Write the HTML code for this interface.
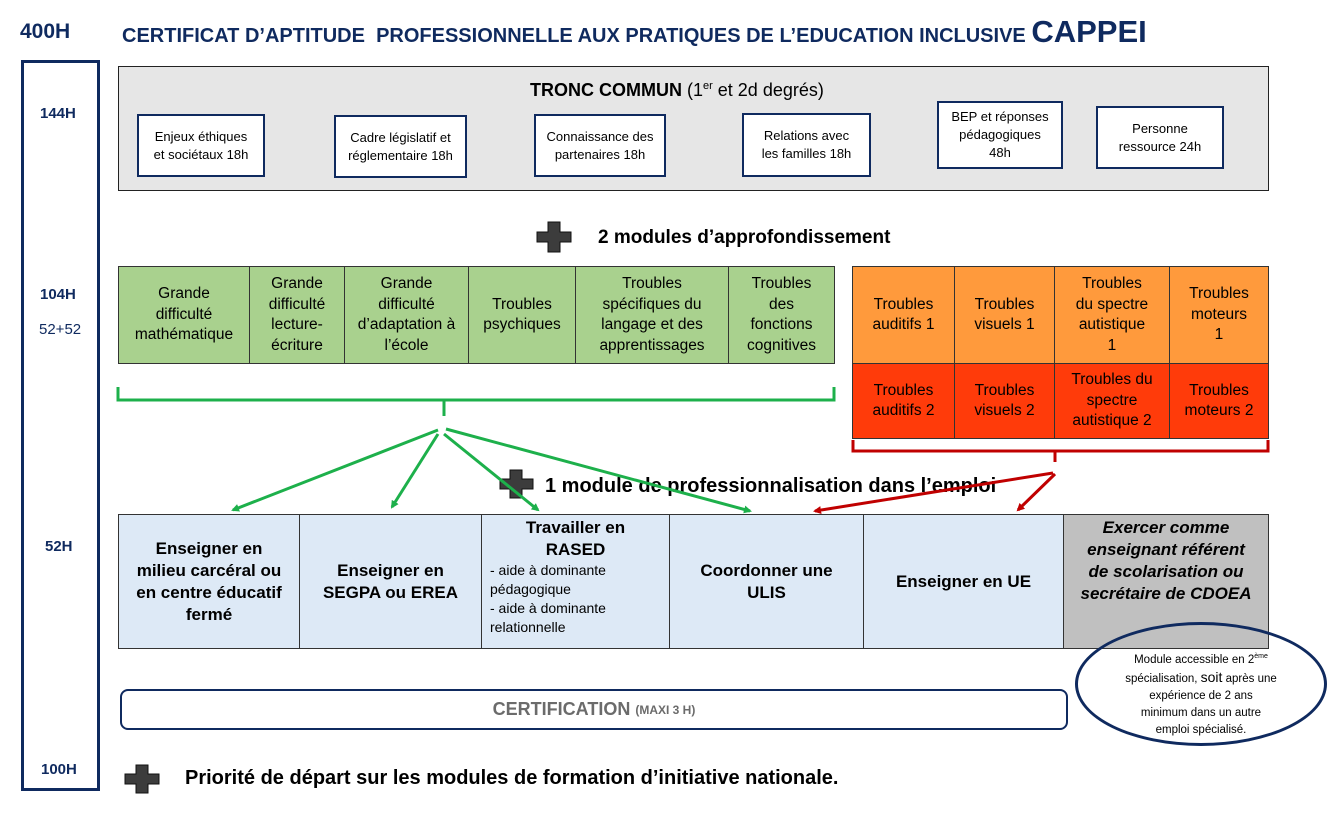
<!DOCTYPE html>
<html><head><meta charset="utf-8">
<style>
*{margin:0;padding:0;box-sizing:border-box}
body{width:1339px;height:815px;background:#fff;position:relative;overflow:hidden;font-family:"Liberation Sans",sans-serif;color:#000}
.a{position:absolute}
.navy{color:#0f2a5f}
.c{display:flex;align-items:center;justify-content:center;text-align:center}
.ib{position:absolute;border:2px solid #0f2a5f;background:#fff;font-size:13px;line-height:18px;display:flex;align-items:center;justify-content:center;text-align:center}
.cell{position:absolute;border:1px solid #333;display:flex;align-items:center;justify-content:center;text-align:center;font-size:15.5px;line-height:20.5px}
.g{background:#a9d18e}.o{background:#ff9a3c}.r{background:#ff3b0a}.b{background:#dde9f6;font-weight:bold;font-size:17px;line-height:22px}
</style></head><body>
<div class="a navy" style="left:20px;top:20px;font-size:21px;font-weight:bold">400H</div>
<div class="a navy" style="left:122px;top:14px;font-size:20px;font-weight:bold;white-space:nowrap">CERTIFICAT D’APTITUDE&nbsp; PROFESSIONNELLE AUX PRATIQUES DE L’EDUCATION INCLUSIVE <span style="font-size:31px">CAPPEI</span></div>

<div class="a" style="left:21px;top:60px;width:79px;height:731px;border:3px solid #0f2a5f"></div>
<div class="a navy" style="left:40px;top:105px;font-size:15px;font-weight:bold">144H</div>
<div class="a navy" style="left:40px;top:286px;font-size:15px;font-weight:bold">104H</div>
<div class="a navy" style="left:39px;top:321px;font-size:15px">52+52</div>
<div class="a navy" style="left:45px;top:538px;font-size:15px;font-weight:bold">52H</div>
<div class="a navy" style="left:41px;top:761px;font-size:15px;font-weight:bold">100H</div>

<div class="a" style="left:118px;top:66px;width:1151px;height:125px;background:#e6e6e6;border:1px solid #222"></div>
<div class="a" style="left:530px;top:80px;font-size:18px"><b>TRONC COMMUN</b> (1<sup style="font-size:11px">er</sup> et 2d degrés)</div>
<div class="ib" style="left:137px;top:114px;width:128px;height:63px">Enjeux éthiques<br>et sociétaux 18h</div>
<div class="ib" style="left:334px;top:115px;width:133px;height:63px">Cadre législatif et<br>réglementaire 18h</div>
<div class="ib" style="left:534px;top:114px;width:132px;height:63px">Connaissance des<br>partenaires 18h</div>
<div class="ib" style="left:742px;top:113px;width:129px;height:64px">Relations avec<br>les familles 18h</div>
<div class="ib" style="left:937px;top:101px;width:126px;height:68px">BEP et réponses<br>pédagogiques<br>48h</div>
<div class="ib" style="left:1096px;top:106px;width:128px;height:63px">Personne<br>ressource 24h</div>

<div class="a" style="left:598px;top:227px;font-size:19px;font-weight:bold">2 modules d’approfondissement</div>

<div class="cell g" style="left:118px;top:266px;width:132px;height:98px">Grande<br>difficulté<br>mathématique</div>
<div class="cell g" style="left:249px;top:266px;width:96px;height:98px">Grande<br>difficulté<br>lecture-<br>écriture</div>
<div class="cell g" style="left:344px;top:266px;width:125px;height:98px">Grande<br>difficulté<br>d’adaptation à<br>l’école</div>
<div class="cell g" style="left:468px;top:266px;width:108px;height:98px">Troubles<br>psychiques</div>
<div class="cell g" style="left:575px;top:266px;width:154px;height:98px">Troubles<br>spécifiques du<br>langage et des<br>apprentissages</div>
<div class="cell g" style="left:728px;top:266px;width:107px;height:98px">Troubles<br>des<br>fonctions<br>cognitives</div>

<div class="cell o" style="left:852px;top:266px;width:103px;height:98px">Troubles<br>auditifs 1</div>
<div class="cell o" style="left:954px;top:266px;width:101px;height:98px">Troubles<br>visuels 1</div>
<div class="cell o" style="left:1054px;top:266px;width:116px;height:98px">Troubles<br>du spectre<br>autistique<br>1</div>
<div class="cell o" style="left:1169px;top:266px;width:100px;height:98px">Troubles<br>moteurs<br>1</div>
<div class="cell r" style="left:852px;top:363px;width:103px;height:76px">Troubles<br>auditifs 2</div>
<div class="cell r" style="left:954px;top:363px;width:101px;height:76px">Troubles<br>visuels 2</div>
<div class="cell r" style="left:1054px;top:363px;width:116px;height:76px">Troubles du<br>spectre<br>autistique 2</div>
<div class="cell r" style="left:1169px;top:363px;width:100px;height:76px">Troubles<br>moteurs 2</div>

<div class="cell b" style="left:118px;top:514px;width:182px;height:135px">Enseigner en<br>milieu carcéral ou<br>en centre éducatif<br>fermé</div>
<div class="cell b" style="left:299px;top:514px;width:183px;height:135px">Enseigner en<br>SEGPA ou EREA</div>
<div class="cell b" style="left:481px;top:514px;width:189px;height:135px;display:block;text-align:left;padding:2px 8px">
<div style="text-align:center">Travailler en<br>RASED</div>
<div style="font-weight:normal;font-size:14px;line-height:19px">- aide à dominante<br>pédagogique<br>- aide à dominante<br>relationnelle</div></div>
<div class="cell b" style="left:669px;top:514px;width:195px;height:135px">Coordonner une<br>ULIS</div>
<div class="cell b" style="left:863px;top:514px;width:201px;height:135px">Enseigner en UE</div>
<div class="cell b" style="left:1063px;top:514px;width:206px;height:135px;background:#c0c0c0;font-style:italic;align-items:flex-start;padding-top:2px">Exercer comme<br>enseignant référent<br>de scolarisation ou<br>secrétaire de CDOEA</div>

<div class="a" style="left:1075px;top:622px;width:252px;height:124px;border:3px solid #0f2a5f;border-radius:50%"></div>
<div class="a" style="left:1090px;top:648px;width:222px;text-align:center;font-size:11.5px;line-height:17px">Module accessible en 2<sup style="font-size:7px">ème</sup><br>spécialisation, <span style="font-size:14px">soit</span> après une<br>expérience de 2 ans<br>minimum dans un autre<br>emploi spécialisé.</div>

<div class="a" style="left:545px;top:475px;font-size:20px;font-weight:bold;white-space:nowrap">1 module de professionnalisation dans l’emploi</div>

<svg class="a" style="left:0;top:0" width="1339" height="815">
<defs>
<marker id="ag" markerWidth="8" markerHeight="8" refX="6" refY="4" orient="auto" markerUnits="userSpaceOnUse"><path d="M0,0L8,4L0,8z" fill="#1db04b"/></marker>
<marker id="ar" markerWidth="8" markerHeight="8" refX="6" refY="4" orient="auto" markerUnits="userSpaceOnUse"><path d="M0,0L8,4L0,8z" fill="#c00000"/></marker>
</defs>
<g fill="#3c3c3c" stroke="#111" stroke-width="1">
<path d="M548,222h12v10h11v10h-11v10h-12v-10h-11v-10h11z"/>
<path d="M510,470h12v9h11v10h-11v9h-12v-9h-10v-10h10z"/>
<path d="M136,765h12v9h11v10h-11v9h-12v-9h-11v-10h11z"/>
</g>
<g stroke="#1db04b" stroke-width="3" fill="none">
<path d="M118,387V400H834V387M444,400V416"/>
<line x1="438" y1="430" x2="233" y2="510" marker-end="url(#ag)"/>
<line x1="438" y1="434" x2="392" y2="507" marker-end="url(#ag)"/>
<line x1="444" y1="434" x2="538" y2="510" marker-end="url(#ag)"/>
<line x1="446" y1="429" x2="750" y2="511" marker-end="url(#ag)"/>
</g>
<g stroke="#c00000" stroke-width="3" fill="none">
<path d="M853,440V451H1268V440M1055,451V462"/>
<line x1="1053" y1="473" x2="815" y2="511" marker-end="url(#ar)"/>
<line x1="1055" y1="474" x2="1018" y2="510" marker-end="url(#ar)"/>
</g>
</svg>

<div class="a c" style="left:120px;top:689px;width:948px;height:41px;border:2px solid #0f2a5f;border-radius:8px;color:#6b6b6b;font-weight:bold;font-size:18px">CERTIFICATION <span style="font-size:12px;margin-left:5px">(MAXI 3 H)</span></div>

<div class="a" style="left:185px;top:767px;font-size:20px;font-weight:bold">Priorité de départ sur les modules de formation d’initiative nationale.</div>
</body></html>
